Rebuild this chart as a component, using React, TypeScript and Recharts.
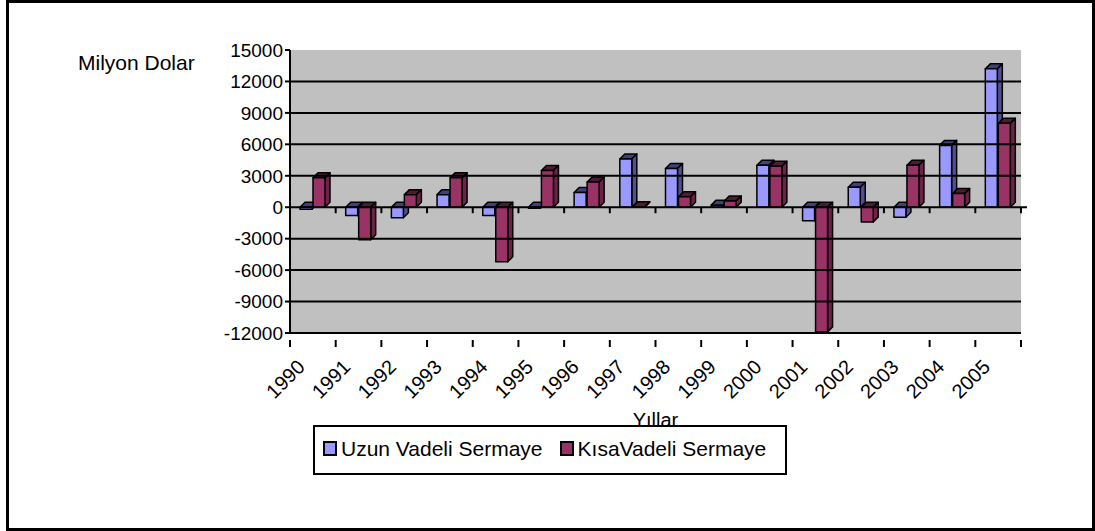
import React from "react";
import { Bar, BarChart, Legend, ReferenceArea, ReferenceLine, XAxis, YAxis } from "recharts";

const years = ["1990", "1991", "1992", "1993", "1994", "1995", "1996", "1997", "1998", "1999", "2000", "2001", "2002", "2003", "2004", "2005"];
const uzunVadeli = [-200, -800, -1000, 1200, -800, -100, 1400, 4600, 3700, 200, 4000, -1300, 1900, -950, 5900, 13200];
const kisaVadeli = [2800, -3100, 1200, 2800, -5200, 3500, 2400, 50, 1000, 600, 3900, -11900, -1400, 4000, 1300, 8000];
const yTicks = [-12000, -9000, -6000, -3000, 0, 3000, 6000, 9000, 12000, 15000];

const data = years.map((y, i) => ({ year: y, uzun: uzunVadeli[i], kisa: kisaVadeli[i] }));

const FONT = "Arial, 'Liberation Sans', sans-serif";
const STEP = (1021 - 290) / years.length;

function Bar3D(props: any) {
  const { x, y, width, height, fill, topFill, sideFill } = props;
  if (x == null || y == null) return null;
  const top = Math.min(y, y + height);
  const h = Math.abs(height);
  const d = 5;
  return (
    <g stroke="#000" strokeWidth={1.5} strokeLinejoin="round">
      <polygon points={`${x},${top} ${x + d},${top - d} ${x + width + d},${top - d} ${x + width},${top}`} fill={topFill} />
      <polygon points={`${x + width},${top} ${x + width + d},${top - d} ${x + width + d},${top + h - d} ${x + width},${top + h}`} fill={sideFill} />
      <rect x={x} y={top} width={width} height={h} fill={fill} />
    </g>
  );
}

// zero line with small category-boundary ticks hanging below it
function ZeroLine(props: any) {
  const { x1, x2, y1 } = props;
  if (x1 == null) return null;
  const step = (x2 - x1) / years.length;
  return (
    <g stroke="#000" strokeWidth={2}>
      <line x1={x1} y1={y1} x2={x2 + 6} y2={y1} />
      {years.map((_, i) => (
        <line key={i} x1={x1 + step * (i + 1)} y1={y1} x2={x1 + step * (i + 1)} y2={y1 + 6} />
      ))}
    </g>
  );
}

function YearTick(props: any) {
  const { x, y, payload, index } = props;
  const left = x - STEP / 2;
  const ax = x - 17;
  const ay = y + 17;
  return (
    <g>
      <line x1={left} y1={y - 1} x2={left} y2={y + 6} stroke="#000" strokeWidth={2} />
      {index === years.length - 1 && <line x1={x + STEP / 2} y1={y - 1} x2={x + STEP / 2} y2={y + 6} stroke="#000" strokeWidth={2} />}
      <text x={ax} y={ay} transform={`rotate(-45 ${ax} ${ay})`} textAnchor="end" dominantBaseline="hanging" fontSize={20} fontFamily={FONT} fill="#000">
        {payload.value}
      </text>
    </g>
  );
}

function LegendBox() {
  const item = (color: string, label: string, ml: number) => (
    <span style={{ display: "flex", alignItems: "center", marginLeft: ml }}>
      <span style={{ width: 10, height: 11, background: color, border: "2px solid #000", marginRight: 4 }} />
      <span>{label}</span>
    </span>
  );
  return (
    <div style={{ boxSizing: "border-box", width: 474, height: 50, border: "2px solid #000", background: "#fff", display: "flex", alignItems: "flex-start", paddingTop: 10, paddingLeft: 8, fontFamily: FONT, fontSize: 21, lineHeight: "23px", color: "#000" }}>
      {item("#9999FF", "Uzun Vadeli Sermaye", 0)}
      {item("#993366", "KısaVadeli Sermaye", 17)}
    </div>
  );
}

export default function App() {
  return (
    <div style={{ position: "absolute", left: 0, top: 0, width: 1095, height: 531, background: "#fff" }}>
      <BarChart width={1095} height={531} data={data} barSize={12} barGap={1} margin={{ top: 50, right: 74, bottom: 138, left: 230 }}>
        <ReferenceArea y1={-12000} y2={15000} fill="#C0C0C0" fillOpacity={1} stroke="none" />
        {yTicks.filter((t) => t > -12000 && t < 15000 && t !== 0).map((t) => (
          <ReferenceLine key={t} y={t} stroke="#000" strokeWidth={2} />
        ))}
        <ReferenceLine y={0} shape={<ZeroLine />} />
        <XAxis
          dataKey="year"
          height={60}
          interval={0}
          tickLine={false}
          axisLine={{ stroke: "#000", strokeWidth: 2 }}
          tick={<YearTick />}
          label={{
            content: (p: any) => (
              <text x={p.viewBox.x + p.viewBox.width / 2} y={p.viewBox.y + 94} textAnchor="middle" fontSize={20} fontFamily={FONT} fill="#000">
                Yıllar
              </text>
            ),
          }}
        />
        <YAxis
          width={60}
          domain={[-12000, 15000]}
          ticks={yTicks}
          interval={0}
          tickSize={5}
          tickLine={{ stroke: "#000", strokeWidth: 2 }}
          axisLine={{ stroke: "#000", strokeWidth: 2 }}
          tick={{ fontSize: 19, fontFamily: FONT, fill: "#000" }}
          label={{
            content: () => (
              <text x={78} y={70} textAnchor="start" fontSize={21} fontFamily={FONT} fill="#000">
                Milyon Dolar
              </text>
            ),
          }}
        />
        <Legend
          verticalAlign="middle"
          align="center"
          wrapperStyle={{ left: 313, top: 425, width: 474, height: 50 }}
          content={() => <LegendBox />}
        />
        <Bar dataKey="uzun" name="Uzun Vadeli Sermaye" fill="#9999FF" isAnimationActive={false} shape={<Bar3D topFill="#40407F" sideFill="#50508F" />} />
        <Bar dataKey="kisa" name="KısaVadeli Sermaye" fill="#993366" isAnimationActive={false} shape={<Bar3D topFill="#4F1A35" sideFill="#6B2447" />} />
      </BarChart>
      <div style={{ position: "absolute", left: 6, top: 0, width: 1089, height: 531, boxSizing: "border-box", borderStyle: "solid", borderColor: "#000", borderWidth: 3, pointerEvents: "none" }} />
    </div>
  );
}
